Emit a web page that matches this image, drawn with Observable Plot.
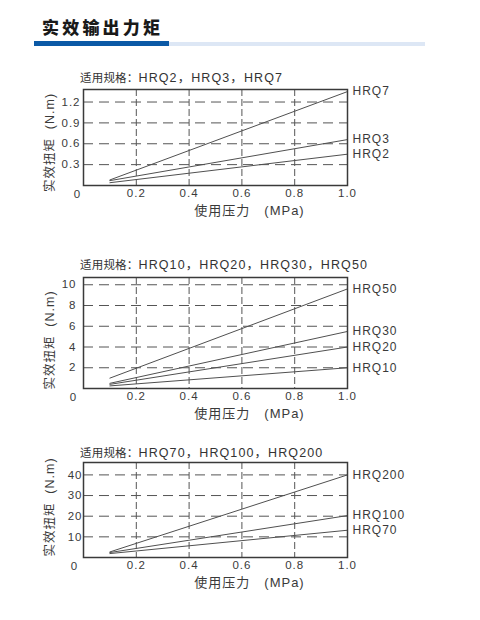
<!DOCTYPE html>
<html><head><meta charset="utf-8">
<script src="https://cdn.jsdelivr.net/npm/d3@7"></script>
<script src="https://cdn.jsdelivr.net/npm/@observablehq/plot@0.6"></script>
<style>
body{margin:0;background:#fff;}
#wrap{position:relative;width:480px;height:620px;overflow:hidden;font-family:"Liberation Sans","Noto Sans CJK SC",sans-serif;color:#333;}
.title{position:absolute;left:42px;top:16px;font-family:"Noto Sans CJK SC",sans-serif;font-weight:900;font-size:17px;letter-spacing:3.2px;color:#1a1a1a;line-height:22px;}
.bar1{position:absolute;left:34px;top:41px;width:135px;height:5px;background:#0b59a6;}
.bar2{position:absolute;left:169px;top:41.5px;width:256px;height:4px;background:#dde7f5;}
.sub{position:absolute;left:80px;line-height:14px;white-space:nowrap;color:#333;}
.sub .cn{font-family:"Noto Sans CJK SC",sans-serif;font-size:11.5px;letter-spacing:0.2px;}
.sub .en{font-family:"Liberation Sans","Noto Sans CJK SC",sans-serif;font-size:12.5px;letter-spacing:1.1px;}
.chart{position:absolute;left:0;}
</style></head>
<body><div id="wrap">
<div class="title">实效输出力矩</div>
<div class="bar1"></div><div class="bar2"></div>
</div>
<script>
// ---- data ----
const pressure = [0.1, 1.0];
const xTicks = [0.2, 0.4, 0.6, 0.8, 1.0];

const series1 = ["HRQ7", "HRQ3", "HRQ2"];
const values1 = [[0.08, 1.35], [0.07, 0.66], [0.04, 0.45]];
const yTicks1 = [0.3, 0.6, 0.9, 1.2];
const yTickLabels1 = ["0.3", "0.6", "0.9", "1.2"];

const series2 = ["HRQ50", "HRQ30", "HRQ20", "HRQ10"];
const values2 = [[1.0, 9.6], [0.5, 5.5], [0.4, 4.0], [0.25, 2.0]];
const yTicks2 = [2, 4, 6, 8, 10];
const yTickLabels2 = ["2", "4", "6", "8", "10"];

const series3 = ["HRQ200", "HRQ100", "HRQ70"];
const values3 = [[2.7, 40], [2.4, 20.3], [1.9, 13.2]];
const yTicks3 = [10, 20, 30, 40];
const yTickLabels3 = ["10", "20", "30", "40"];

const subtitleLead = "适用规格：";
const subtitles = ["HRQ2，HRQ3，HRQ7", "HRQ10，HRQ20，HRQ30，HRQ50", "HRQ70，HRQ100，HRQ200"];
const xTitle = "使用压力\u3000(MPa)";
const yTitle = "实效扭矩\u00A0\u00A0(N.m)";

// ---- layout config ----
const charts = [
  {series: series1, values: values1, yTicks: yTicks1, yLabels: yTickLabels1, yMax: 1.38, top: 84, inner: 96, tickPad: 3, subTop: 70, yTitleDy: 5, zeroDx: -6},
  {series: series2, values: values2, yTicks: yTicks2, yLabels: yTickLabels2, yMax: 10.7, top: 272, inner: 111, tickPad: 7, subTop: 257, yTitleDy: 7, zeroDx: -10},
  {series: series3, values: values3, yTicks: yTicks3, yLabels: yTickLabels3, yMax: 46, top: 457, inner: 95, tickPad: 1, subTop: 445, yTitleDy: -3, zeroDx: -9}
];

const wrap = document.getElementById("wrap");
const ink = "#3a3a3a";
const font = "'Liberation Sans','Noto Sans CJK SC',sans-serif";

charts.forEach((c, i) => {
  const sub = document.createElement("div");
  sub.className = "sub";
  sub.style.top = c.subTop + "px";
  sub.innerHTML = `<span class="cn">${subtitleLead}</span><span class="en">${subtitles[i]}</span>`;
  wrap.appendChild(sub);

  const rows = [];
  c.series.forEach((s, k) => pressure.forEach((p, j) => rows.push({series: s, p, v: c.values[k][j]})));
  const ends = rows.filter(d => d.p === 1.0);

  const mt = 5, mb = 35;
  const plot = Plot.plot({
    width: 480,
    height: mt + c.inner + mb,
    marginLeft: 83,
    marginRight: 133,
    marginTop: mt,
    marginBottom: mb,
    style: {fontFamily: font, fontSize: "11.5px", letterSpacing: "1px", color: ink, background: "transparent", overflow: "visible"},
    x: {domain: [0, 1], ticks: xTicks, tickSize: 0, tickPadding: 3, tickFormat: d => d.toFixed(1), label: null},
    y: {domain: [0, c.yMax], ticks: c.yTicks, tickSize: 0, tickPadding: c.tickPad, tickFormat: d => c.yLabels[c.yTicks.indexOf(d)], label: null},
    marks: [
      Plot.ruleY(c.yTicks, {stroke: "#555", strokeWidth: 1, strokeDasharray: "10,6"}),
      Plot.ruleX(xTicks.slice(0, 4), {stroke: "#555", strokeWidth: 1, strokeDasharray: "7,3"}),
      Plot.line(rows, {x: "p", y: "v", z: "series", stroke: "#505050", strokeWidth: 1}),
      Plot.frame({stroke: "#3a3a3a", strokeWidth: 1.5}),
      Plot.text(ends, {x: "p", y: "v", text: "series", textAnchor: "start", dx: 5, fontSize: 12, fill: ink}),
      Plot.text(["0"], {x: () => 0, y: () => 0, dx: c.zeroDx, dy: 9, fontSize: 11.5, fill: ink}),
      Plot.text([xTitle], {frameAnchor: "bottom", textAnchor: "middle", lineAnchor: "middle", dy: 25, dx: 34, fontSize: 13, fill: ink, letterSpacing: "0.5px"}),
      Plot.text([yTitle], {frameAnchor: "left", textAnchor: "middle", lineAnchor: "middle", rotate: -90, dx: -34, dy: c.yTitleDy, fontSize: 12.5, fill: ink, letterSpacing: "0.5px"})
    ]
  });
  plot.classList.add("chart");
  plot.style.position = "absolute";
  plot.style.top = c.top + "px";
  plot.style.left = "0px";
  wrap.appendChild(plot);
});
</script>
</body></html>
